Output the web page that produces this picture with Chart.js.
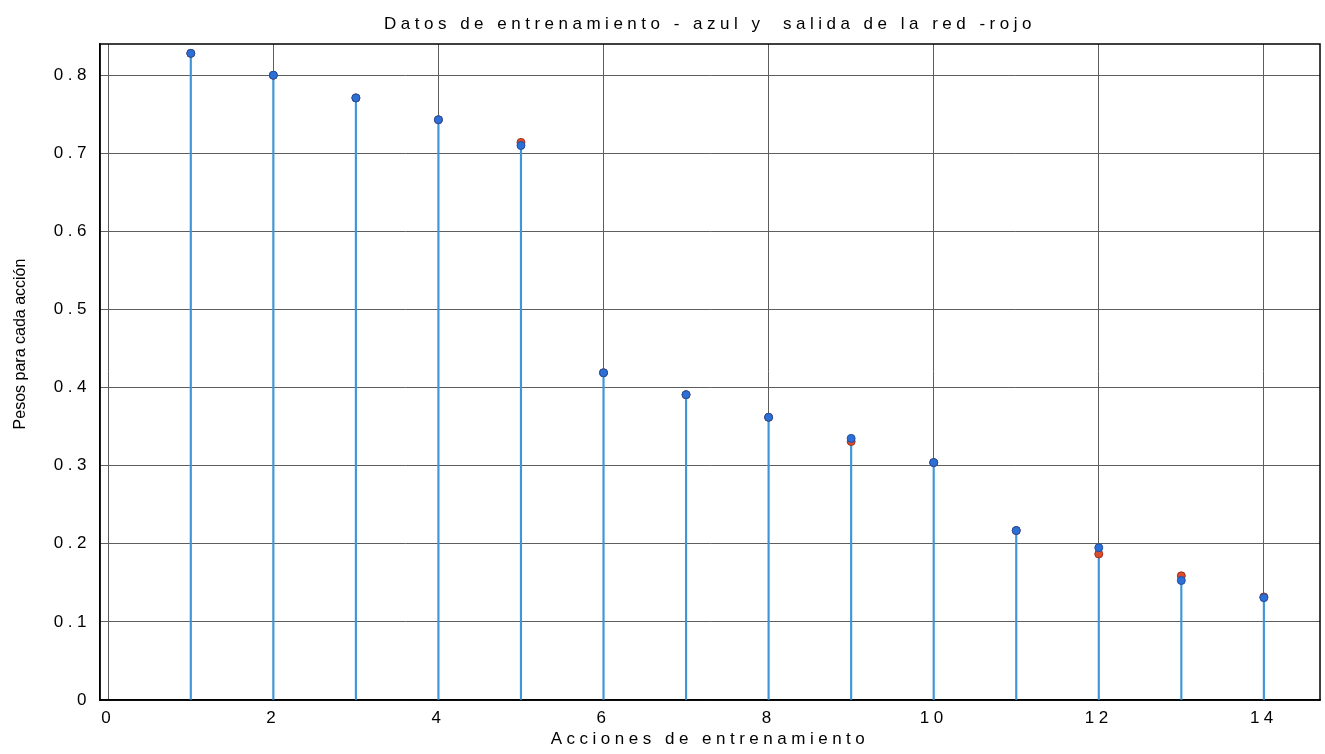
<!DOCTYPE html>
<html>
<head>
<meta charset="utf-8">
<script src="https://cdn.jsdelivr.net/npm/chart.js@4/dist/chart.umd.min.js"></script>
<style>
  html, body { margin: 0; padding: 0; background: #ffffff; }
  #wrap { width: 1325px; height: 754px; }
</style>
</head>
<body>
<div id="wrap"><canvas id="c" width="1325" height="754"></canvas></div>
<script>
// Acciones de entrenamiento (eje x)
const actions = [1, 2, 3, 4, 5, 6, 7, 8, 9, 10, 11, 12, 13, 14];
// Datos de entrenamiento (azul)
const trainingWeights = [0.828, 0.800, 0.771, 0.743, 0.710, 0.419, 0.391, 0.362, 0.335, 0.304, 0.217, 0.195, 0.153, 0.131];
// Salida de la red (rojo)
const networkOutput = [0.828, 0.800, 0.771, 0.743, 0.714, 0.419, 0.391, 0.362, 0.331, 0.304, 0.217, 0.187, 0.159, 0.132];

const xTicks = [0, 2, 4, 6, 8, 10, 12, 14];
const yTicks = [0, 0.1, 0.2, 0.3, 0.4, 0.5, 0.6, 0.7, 0.8];

const titleText = 'Datos de entrenamiento - azul y  salida de la red -rojo';
const xTitleText = 'Acciones de entrenamiento';
const yTitleText = 'Pesos para cada acción';

const FONT = "'Liberation Sans', Arial, Helvetica, sans-serif";
const INK = '#000000';

const toPoints = (ys) => actions.map((x, i) => ({ x: x, y: ys[i] }));

// Marco completo del área de ejes, espaciado de letras y rótulo vertical
const axesDecor = {
  id: 'axesDecor',
  beforeDraw(chart) {
    chart.ctx.letterSpacing = '4.5px';
  },
  beforeDatasetsDraw(chart) {
    const { ctx, chartArea: a } = chart;
    ctx.save();
    ctx.strokeStyle = INK;
    ctx.lineWidth = 1.5;
    ctx.strokeRect(a.left, a.top, a.right - a.left, a.bottom - a.top);
    ctx.restore();
  },
  afterDraw(chart) {
    const { ctx, chartArea: a } = chart;
    ctx.save();
    ctx.letterSpacing = '0px';
    ctx.translate(21, (a.top + a.bottom) / 2 - 28);
    ctx.rotate(-Math.PI / 2);
    ctx.font = '16px ' + FONT;
    ctx.fillStyle = INK;
    ctx.textAlign = 'center';
    ctx.textBaseline = 'middle';
    ctx.fillText(yTitleText, 0, 0);
    ctx.restore();
  }
};

new Chart(document.getElementById('c'), {
  type: 'scatter',
  data: {
    datasets: [
      {
        label: 'azul',
        data: toPoints(trainingWeights),
        pointStyle: 'circle',
        pointRadius: 4,
        pointBackgroundColor: '#2d6fd6',
        pointBorderColor: '#1f4f9e',
        pointBorderWidth: 1,
        showLine: false,
        order: 0
      },
      {
        label: 'rojo',
        data: toPoints(networkOutput),
        pointStyle: 'circle',
        pointRadius: 4,
        pointBackgroundColor: '#dc4b2c',
        pointBorderColor: '#9e301a',
        pointBorderWidth: 1,
        showLine: false,
        order: 1
      },
      {
        type: 'bar',
        label: 'tallos',
        data: toPoints(trainingWeights),
        backgroundColor: '#3f95d8',
        borderWidth: 0,
        barThickness: 1.5,
        order: 2
      }
    ]
  },
  options: {
    responsive: false,
    animation: false,
    devicePixelRatio: 1,
    layout: { padding: { left: 0, right: 3, top: 0, bottom: 0 } },
    plugins: {
      legend: { display: false },
      tooltip: { enabled: false },
      title: {
        display: true,
        text: titleText,
        fullSize: false,
        color: INK,
        font: { family: FONT, size: 17, weight: 'normal', lineHeight: 1.2 },
        padding: { top: 14, bottom: 9.6 }
      }
    },
    scales: {
      x: {
        type: 'linear',
        offset: false,
        min: -0.1,
        max: 14.68,
        afterBuildTicks: (scale) => { scale.ticks = xTicks.map(v => ({ value: v })); },
        afterFit: (scale) => { scale.height = 54; },
        ticks: {
          includeBounds: false,
          color: INK,
          padding: 8,
          maxRotation: 0,
          font: { family: FONT, size: 17 },
          callback: (v) => String(v)
        },
        grid: { offset: false, color: '#5e5e5e', lineWidth: 1, drawTicks: false },
        border: { display: true, color: INK, width: 1.5 },
        title: {
          display: true,
          text: xTitleText,
          color: INK,
          font: { family: FONT, size: 17 },
          padding: { top: 0, bottom: 4 }
        }
      },
      y: {
        type: 'linear',
        min: 0,
        max: 0.84,
        afterBuildTicks: (scale) => { scale.ticks = yTicks.map(v => ({ value: v })); },
        afterFit: (scale) => { scale.width = 100; },
        ticks: {
          includeBounds: false,
          color: INK,
          padding: 9,
          font: { family: FONT, size: 17 },
          callback: (v) => (v === 0 ? '0' : v.toFixed(1))
        },
        grid: { color: '#5e5e5e', lineWidth: 1, drawTicks: false },
        border: { display: true, color: INK, width: 1.5 }
      }
    }
  },
  plugins: [axesDecor]
});
</script>
</body>
</html>
